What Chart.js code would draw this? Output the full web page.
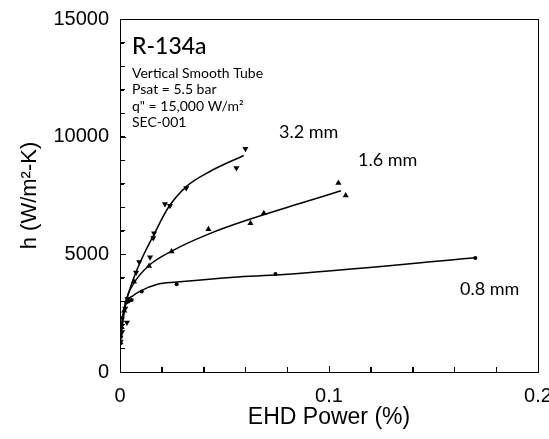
<!DOCTYPE html>
<html>
<head>
<meta charset="utf-8">
<script src="https://cdn.jsdelivr.net/npm/chart.js@4"></script>
<style>
  html, body { margin: 0; padding: 0; background: #fff; }
  #wrap { position: relative; width: 549px; height: 439px; }
  #wrap canvas { position: absolute; left: 0; top: 0; }
  .frame { position: absolute; border: 1px solid #000; box-sizing: border-box; pointer-events: none; }
  .tick { position: absolute; background: #000; pointer-events: none; }
</style>
</head>
<body>
<div id="wrap"><canvas id="c" width="549" height="439"></canvas></div>
<script>
// Meetpunten: [EHD power (%), h (W/m2-K)]
const pts32 = [[0.0003, 1300], [0.0010, 1700], [0.0033, 2100], [0.0025, 2700], [0.0035, 3100],
  [0.0077, 4230], [0.0092, 4670], [0.0144, 4880], [0.0159, 5690], [0.0163, 5900],
  [0.0215, 7140], [0.0239, 7060], [0.0317, 7820], [0.0557, 8670], [0.0600, 9490]];
const pts16 = [[0.0002, 1250], [0.0008, 1900], [0.0020, 2600], [0.0040, 3050], [0.0067, 3840],
  [0.0139, 4500], [0.0247, 5120], [0.0423, 6070], [0.0624, 6316], [0.0688, 6745],
  [0.1045, 8030], [0.1080, 7500]];
const pts08 = [[0.0000, 1200], [0.0005, 1500], [0.0012, 2300], [0.0030, 2950], [0.0040, 3000],
  [0.0056, 3060], [0.0104, 3420], [0.0271, 3730], [0.0744, 4160], [0.1700, 4840]];

const fit32 = [[0, 1250], [0.001, 1900], [0.0025, 2800], [0.005, 3600], [0.0096, 4650], [0.016, 5800],
  [0.0232, 7000], [0.032, 7900], [0.0432, 8530], [0.0592, 9200]];
const fit16 = [[0, 1250], [0.001, 2000], [0.0025, 2900], [0.0065, 3750], [0.0135, 4500], [0.025, 5150],
  [0.0432, 5890], [0.0624, 6500], [0.0864, 7170], [0.1057, 7700]];
const fit08 = [[0, 1200], [0.001, 2200], [0.003, 2950], [0.0064, 3250], [0.0099, 3450], [0.0176, 3720],
  [0.0272, 3820], [0.0544, 4030], [0.0766, 4130], [0.17, 4850]];

const xLabels = [0, 0.1, 0.2];
const yLabels = [0, 5000, 10000, 15000];

const annoLines = ['Vertical Smooth Tube', 'Psat = 5.5 bar', 'q" = 15,000 W/m²', 'SEC-001'];
const curveLabels = ['3.2 mm', '1.6 mm', '0.8 mm'];

const toXY = arr => arr.map(([x, y]) => ({ x, y }));
const ANNO_FONT = 'Lato, "Open Sans", sans-serif';
const TICK_FONT = { family: '"Liberation Sans", Arial, sans-serif', size: 20 };

// Tekstlabels in het plotvlak
const labelPlugin = {
  id: 'labels',
  afterDraw(chart) {
    const { ctx } = chart;
    ctx.save();
    ctx.fillStyle = '#000';
    ctx.textBaseline = 'alphabetic';
    ctx.textAlign = 'left';
    ctx.font = `500 23px ${ANNO_FONT}`;
    ctx.fillText('R-134a', 132, 54);
    ctx.font = `14px ${ANNO_FONT}`;
    annoLines.forEach((s, i) => ctx.fillText(s, 132, 78 + i * 16.3));
    ctx.font = `18px ${ANNO_FONT}`;
    ctx.fillText(curveLabels[0], 279, 138);
    ctx.fillText(curveLabels[1], 358, 166);
    ctx.fillText(curveLabels[2], 460, 295);
    ctx.restore();
  }
};

const markerSet = (data, style, rotation, radius) => ({
  data: toXY(data), showLine: false, pointStyle: style, rotation,
  pointRadius: radius, pointBackgroundColor: '#000', pointBorderColor: '#000', pointBorderWidth: 0
});
const fitLine = data => ({
  data: toXY(data), showLine: true, pointRadius: 0, borderColor: '#000', borderWidth: 1.5,
  cubicInterpolationMode: 'monotone', fill: false
});

const chart = new Chart(document.getElementById('c'), {
  type: 'scatter',
  data: {
    datasets: [
      fitLine(fit32), fitLine(fit16), fitLine(fit08),
      markerSet(pts32, 'triangle', 180, 3.5),
      markerSet(pts16, 'triangle', 0, 3.5),
      markerSet(pts08, 'circle', 0, 2)
    ]
  },
  options: {
    responsive: false,
    animation: false,
    layout: { padding: { top: 19, right: 11, left: 0, bottom: 0 } },
    plugins: { legend: { display: false }, tooltip: { enabled: false } },
    scales: {
      x: {
        type: 'linear', position: 'bottom', min: 0, max: 0.2,
        afterBuildTicks: s => { s.ticks = Array.from({ length: 11 }, (_, i) => ({ value: +(i * 0.02).toFixed(2) })); },
        grid: { display: true, drawOnChartArea: false, tickLength: -5, color: '#000' },
        border: { display: true, color: '#000', width: 1 },
        ticks: {
          autoSkip: false, maxRotation: 0, color: '#000', font: TICK_FONT, padding: 17,
          callback: v => xLabels.some(l => Math.abs(l - v) < 1e-9) ? String(+v.toFixed(1)) : ''
        },
        title: { display: true, text: 'EHD Power (%)', color: '#000', font: { family: TICK_FONT.family, size: 23 }, padding: { top: 0, bottom: 8 } },
        afterFit: s => { s.height = 67; s.paddingLeft = 0; s.paddingRight = 0; }
      },
      y: {
        type: 'linear', position: 'left', min: 0, max: 15000,
        ticks: { stepSize: 1000, autoSkip: false, color: '#000', font: TICK_FONT, padding: 16,
          callback: v => yLabels.includes(v) ? String(v) : '' },
        grid: { display: true, drawOnChartArea: false, tickLength: -5, color: '#000' },
        border: { display: true, color: '#000', width: 1 },
        title: { display: true, text: 'h (W/m²-K)', color: '#000', font: { family: TICK_FONT.family, size: 22 }, padding: { top: 17, bottom: 0 } },
        afterFit: s => { s.width = 120; s.paddingTop = 0; s.paddingBottom = 0; }
      }
    }
  },
  plugins: [labelPlugin]
});

// Kader en naar binnen wijzende tickstreepjes als overlay, posities uit de Chart.js-schalen
(function drawFrame() {
  const wrap = document.getElementById('wrap');
  const a = chart.chartArea;
  const L = Math.round(a.left), R = Math.round(a.right), T = Math.round(a.top), B = Math.round(a.bottom);
  const frame = document.createElement('div');
  frame.className = 'frame';
  Object.assign(frame.style, { left: L + 'px', top: T + 'px', width: (R - L + 1) + 'px', height: (B - T + 1) + 'px' });
  wrap.appendChild(frame);
  const addTick = (left, top, w, h) => {
    const d = document.createElement('div');
    d.className = 'tick';
    Object.assign(d.style, { left: left + 'px', top: top + 'px', width: w + 'px', height: h + 'px' });
    wrap.appendChild(d);
  };
  chart.scales.x.ticks.forEach(t => {
    const px = Math.round(chart.scales.x.getPixelForValue(t.value));
    const len = xLabels.some(v => Math.abs(v - t.value) < 1e-9) ? 6 : 5;
    addTick(px, B - len, 1, len);
  });
  chart.scales.y.ticks.forEach(t => {
    const py = Math.round(chart.scales.y.getPixelForValue(t.value));
    const len = yLabels.includes(t.value) ? 6 : 4;
    addTick(L, py, len, 1);
  });
})();
</script>
</body>
</html>
